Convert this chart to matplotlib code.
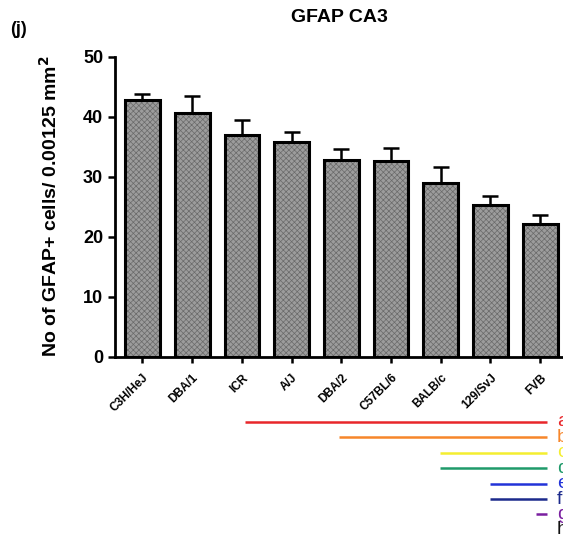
import matplotlib
matplotlib.use('Agg')
import matplotlib.pyplot as plt
import matplotlib.transforms as mtransforms
import numpy as np

plt.rcParams['font.family'] = ['Liberation Sans', 'DejaVu Sans']
plt.rcParams['font.weight'] = 'bold'
plt.rcParams['hatch.linewidth'] = 0.5

# strains and GFAP+ counts (mean, upper SEM)
strains = ['C3H/HeJ', 'DBA/1', 'ICR', 'A/J', 'DBA/2', 'C57BL/6', 'BALB/c', '129/SvJ', 'FVB']
means = [42.7, 40.6, 36.9, 35.7, 32.8, 32.6, 28.9, 25.3, 22.2]
sems = [1.1, 2.8, 2.5, 1.7, 1.8, 2.2, 2.7, 1.5, 1.5]

# significance groups (start position in strain index, all end past FVB)
group_letters = ['a', 'b', 'c', 'd', 'e', 'f', 'g', 'h']
group_starts = [2.06, 3.96, 5.99, 5.99, 6.99, 7.0, 7.92]
group_end = 8.13
group_colors = ['#e8262a', '#f7862a', '#f4ee30', '#1f9a6a', '#2233d8', '#1c2a8c', '#7a1fa0', '#111111']

fig = plt.figure(figsize=(5.63, 5.42), dpi=100)
ax = fig.add_axes([115 / 563, 185.3 / 542, 448 / 563, 300 / 542])

x = np.arange(len(strains))
ax.bar(x, means, width=0.7, color='#9c9c9c', hatch='xxxxxx', edgecolor='#6a6a6a', linewidth=0, zorder=2)
ax.bar(x, means, width=0.7, fill=False, edgecolor='black', linewidth=2.2, zorder=3)
ax.errorbar(x, means, yerr=[np.zeros(len(sems)), sems], fmt='none', ecolor='black',
            elinewidth=1.8, capsize=6, capthick=1.8, zorder=1)

ax.set_xlim(-0.553, 8.46)
ax.set_ylim(0, 50)
ax.set_yticks([0, 10, 20, 30, 40, 50])
ax.set_xticks(x)
ax.set_xticklabels(strains, rotation=45, ha='right', va='top', rotation_mode='anchor',
                   fontsize=8.5, fontweight='bold')
ax.tick_params(axis='y', labelsize=13, width=1.8, length=5)
ax.tick_params(axis='x', width=1.8, length=4, pad=7)
for lab in ax.get_yticklabels():
    lab.set_fontweight('bold')
ax.spines['top'].set_visible(False)
ax.spines['right'].set_visible(False)
ax.spines['left'].set_linewidth(2)
ax.spines['bottom'].set_linewidth(2)

ax.set_ylabel('No of GFAP+ cells/ 0.00125 mm$^\\mathbf{2}$', fontsize=14, fontweight='bold', labelpad=16)
fig.text(339 / 563, 1 - 17 / 542, 'GFAP CA3', ha='center', va='center', fontsize=14, fontweight='bold')
fig.text(10 / 563, 1 - 29 / 542, '(j)', ha='left', va='center', fontsize=13, fontweight='bold')

# group lines below the axis
trans = mtransforms.blended_transform_factory(ax.transData, fig.transFigure)
for i, letter in enumerate(group_letters):
    yf = 1 - (422 + 15.4 * i) / 542
    if i < len(group_starts):
        ax.plot([group_starts[i], group_end], [yf, yf], color=group_colors[i], lw=1.8,
                transform=trans, clip_on=False, solid_capstyle='butt')
    ax.text(8.34, yf, letter, color=group_colors[i], fontsize=14, fontweight='normal',
            ha='left', va='center', transform=trans, clip_on=False)

fig.savefig('out.png', dpi=100)
